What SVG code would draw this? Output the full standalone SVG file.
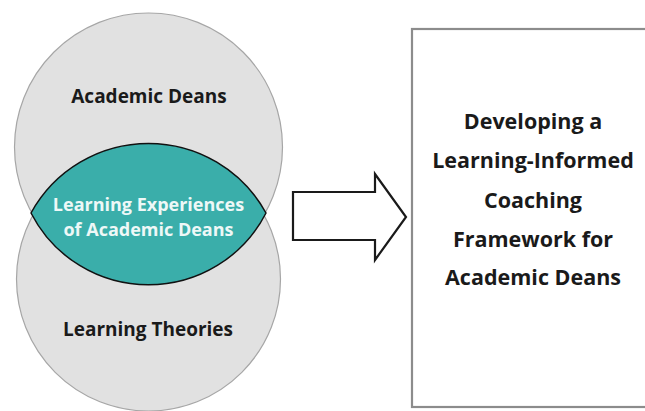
<svg xmlns="http://www.w3.org/2000/svg" width="645" height="411" viewBox="0 0 645 411">
<style>
.circ{fill:#e1e1e1;stroke:#a6a6a6;stroke-width:1.2}
.lbl{font-family:"Open Sans","Liberation Sans",sans-serif;font-weight:bold;text-anchor:middle;fill:#1a1a1a}
.wlbl{font-family:"Open Sans","Liberation Sans",sans-serif;font-weight:bold;text-anchor:middle;fill:#eef8f7}
</style>
<rect width="645" height="411" fill="#ffffff"/>
<g id="academic-deans">
<circle class="circ" cx="148.5" cy="147" r="134"/>
<text class="lbl" x="149" y="103" font-size="19">Academic Deans</text>
</g>
<g id="learning-theories">
<circle class="circ" cx="148.5" cy="279" r="132"/>
<text class="lbl" x="148" y="336" font-size="19">Learning Theories</text>
</g>
<g id="learning-experiences">
<path d="M 31 213 A 134 134 0 0 1 266 213 A 132 132 0 0 1 31 213 Z" fill="#3aaeaa" stroke="#111" stroke-width="1.5"/>
<text class="wlbl" x="148.5" y="211" font-size="18">Learning Experiences</text>
<text class="wlbl" x="148.5" y="236" font-size="18">of Academic Deans</text>
</g>
<g id="connectors">
<path d="M 293 192 L 375 192 L 375 174 L 406 217 L 375 260 L 375 240 L 293 240 Z" fill="#ffffff" stroke="#1a1a1a" stroke-width="2.2" stroke-linejoin="miter"/>
</g>
<g id="framework">
<rect x="412" y="29" width="250" height="378" fill="#ffffff" stroke="#8c8c8c" stroke-width="2.2"/>
<text class="lbl" x="533" y="129" font-size="21.5">Developing a</text>
<text class="lbl" x="533" y="168" font-size="21.5">Learning-Informed</text>
<text class="lbl" x="533" y="208" font-size="21.5">Coaching</text>
<text class="lbl" x="533" y="247" font-size="21.5">Framework for</text>
<text class="lbl" x="533" y="285" font-size="21.5">Academic Deans</text>
</g>
</svg>
